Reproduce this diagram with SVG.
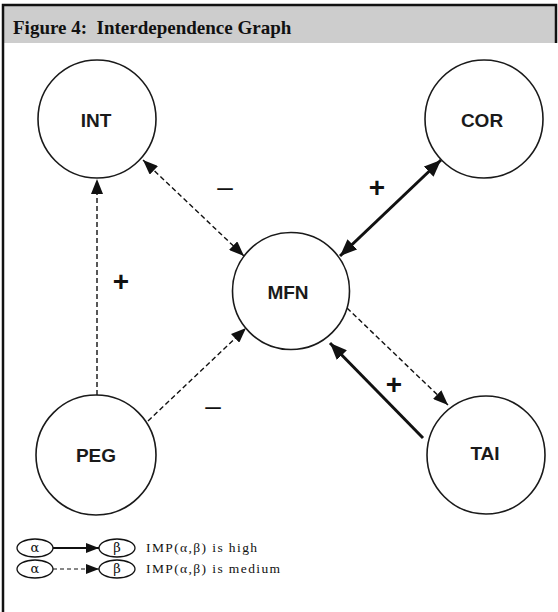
<svg xmlns="http://www.w3.org/2000/svg" width="558" height="612" viewBox="0 0 558 612">
<style>
.node{fill:#fff;stroke:#1a1a1a;stroke-width:1.6}
.lbl{font-family:"Liberation Sans",Arial,sans-serif;font-weight:bold;font-size:19px;fill:#1a1a1a;text-anchor:middle}
.solid{stroke:#111;stroke-width:3;fill:none}
.dash{stroke:#111;stroke-width:1.4;fill:none;stroke-dasharray:5,3}
.sign{font-family:"Liberation Sans",Arial,sans-serif;fill:#111;text-anchor:middle}
.plus{font-weight:bold;font-size:28px}
.minus{font-size:28px}
.leg{fill:#fff;stroke:#111;stroke-width:1.3}
.gk{font-family:"DejaVu Serif","Liberation Serif",serif;font-size:13px;fill:#111;text-anchor:middle}
.legt{font-family:"Liberation Serif","Times New Roman",serif;font-size:13.5px;fill:#111;letter-spacing:1.4px}
</style>
<defs>
<marker id="hs" markerUnits="userSpaceOnUse" markerWidth="18" markerHeight="14" refX="17" refY="7" orient="auto-start-reverse">
<path d="M0,0 L17,7 L0,14 z" fill="#111"/>
</marker>
<marker id="hd" markerUnits="userSpaceOnUse" markerWidth="16" markerHeight="12" refX="15" refY="6" orient="auto-start-reverse">
<path d="M0,0 L15,6 L0,12 z" fill="#111"/>
</marker>
<marker id="hl" markerUnits="userSpaceOnUse" markerWidth="14" markerHeight="10" refX="13" refY="5" orient="auto">
<path d="M0,0 L13,5 L0,10 z" fill="#111"/>
</marker>
</defs>
<rect x="0" y="0" width="558" height="612" fill="#fff"/>
<g id="frame">
<rect x="3" y="5" width="553" height="38" fill="#cdcdcd"/>
<path d="M3,612 L3,5 L556,5 L556,43" fill="none" stroke="#111" stroke-width="2.5"/>
<text x="13" y="34" font-family="'Liberation Serif','Times New Roman',serif" font-weight="bold" font-size="19" fill="#111" xml:space="preserve">Figure 4:  Interdependence Graph</text>
</g>
<g id="connectors">
<path class="dash" d="M143,160 L244,256" marker-start="url(#hd)" marker-end="url(#hd)"/>
<path class="dash" d="M97,395 L97,179" marker-end="url(#hd)"/>
<path class="dash" d="M148,421 L246,328" marker-end="url(#hd)"/>
<path class="solid" d="M441,160 L340,256" marker-start="url(#hs)" marker-end="url(#hs)"/>
<path class="dash" d="M347,308 L448,405" marker-end="url(#hd)"/>
<path class="solid" d="M423,438 L330,343" marker-end="url(#hs)"/>
</g>
<g id="signs">
<text class="sign minus" x="225" y="196">–</text>
<text class="sign plus" x="377" y="197">+</text>
<text class="sign plus" x="121" y="291">+</text>
<text class="sign minus" x="213" y="415">–</text>
<text class="sign plus" x="394" y="394">+</text>
</g>
<g id="INT"><circle class="node" cx="97" cy="119" r="59"/><text class="lbl" x="96" y="127">INT</text></g>
<g id="COR"><circle class="node" cx="484" cy="119" r="59"/><text class="lbl" x="482" y="127">COR</text></g>
<g id="MFN"><circle class="node" cx="291" cy="291" r="58.5"/><text class="lbl" x="288" y="299">MFN</text></g>
<g id="PEG"><circle class="node" cx="96" cy="455" r="60"/><text class="lbl" x="96" y="462">PEG</text></g>
<g id="TAI"><circle class="node" cx="486" cy="455" r="59"/><text class="lbl" x="485" y="460">TAI</text></g>
<g id="legend">
<ellipse class="leg" cx="35" cy="548" rx="18" ry="9"/>
<text class="gk" x="35" y="552">α</text>
<ellipse class="leg" cx="117" cy="548" rx="18" ry="9"/>
<text class="gk" x="117" y="552">β</text>
<path d="M53,548 L99,548" stroke="#111" stroke-width="1.8" marker-end="url(#hl)"/>
<text class="legt" x="146" y="552">IMP(α,β) is high</text>
<ellipse class="leg" cx="35" cy="569" rx="18" ry="9"/>
<text class="gk" x="35" y="573">α</text>
<ellipse class="leg" cx="117" cy="569" rx="18" ry="9"/>
<text class="gk" x="117" y="573">β</text>
<path d="M53,569 L99,569" stroke="#111" stroke-width="1.2" stroke-dasharray="4,3" marker-end="url(#hl)"/>
<text class="legt" x="146" y="573">IMP(α,β) is medium</text>
</g>
</svg>
